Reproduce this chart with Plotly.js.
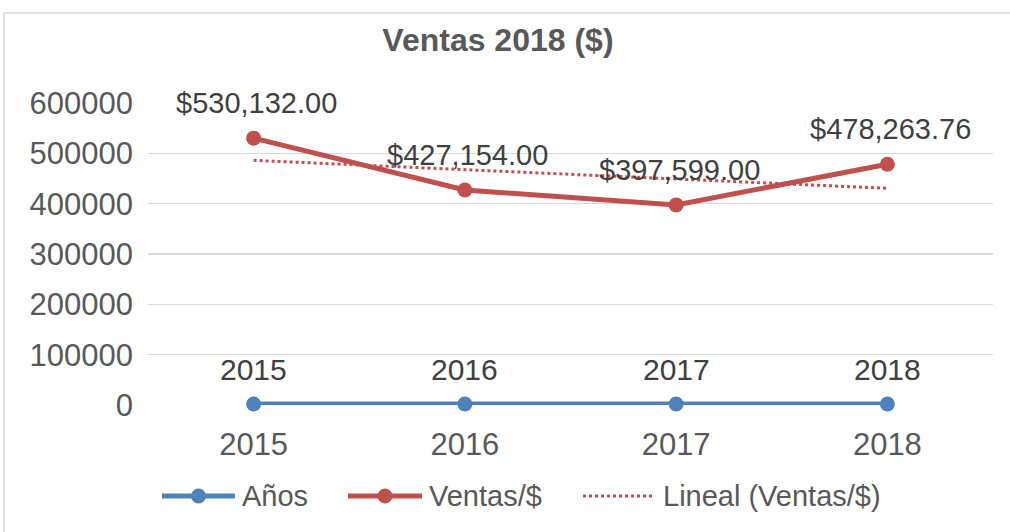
<!DOCTYPE html>
<html>
<head>
<meta charset="utf-8">
<script src="https://cdn.plot.ly/plotly-3.0.1.min.js"></script>
<style>
html,body{margin:0;padding:0;background:#fff;}
#chart{width:1010px;height:532px;}
</style>
</head>
<body>
<div id="chart"></div>
<script>
const categories = ['2015', '2016', '2017', '2018'];
const anos = [2015, 2016, 2017, 2018];
const ventas = [530132.00, 427154.00, 397599.00, 478263.76];
const ventasLabels = ['$530,132.00', '$427,154.00', '$397,599.00', '$478,263.76'];
const anosLabels = ['2015', '2016', '2017', '2018'];
const yTicks = [0, 100000, 200000, 300000, 400000, 500000, 600000];
const seriesNames = ['Años', 'Ventas/$', 'Lineal (Ventas/$)'];

// Linear trendline (least squares) of Ventas over category index
const n = ventas.length;
const xs = ventas.map((_, i) => i + 1);
const mx = xs.reduce((a, b) => a + b, 0) / n;
const my = ventas.reduce((a, b) => a + b, 0) / n;
let sxy = 0, sxx = 0;
for (let i = 0; i < n; i++) { sxy += (xs[i] - mx) * (ventas[i] - my); sxx += (xs[i] - mx) ** 2; }
const slope = sxy / sxx;
const trend = xs.map(x => my + slope * (x - mx));

const blue = '#4F81BD';
const red = '#C0504D';
const textGray = '#595959';
const labelGray = '#404040';
const FONT = 'Liberation Sans, Arial, sans-serif';
const FS = 30;

const traces = [
  {
    x: categories, y: anos, name: seriesNames[0], type: 'scatter', mode: 'lines+markers',
    line: {color: blue, width: 5}, marker: {color: blue, size: 15}, cliponaxis: false
  },
  {
    x: categories, y: ventas, name: seriesNames[1], type: 'scatter', mode: 'lines+markers',
    line: {color: red, width: 5}, marker: {color: red, size: 15}, cliponaxis: false
  },
  {
    x: categories, y: trend, name: seriesNames[2], type: 'scatter', mode: 'lines',
    line: {color: red, width: 3, dash: 'dot'}, cliponaxis: false
  }
];

const annotations = [];
categories.forEach((c, i) => {
  annotations.push({x: i, y: ventas[i], text: ventasLabels[i], showarrow: false,
    xref: 'x', yref: 'y', yshift: 35, xshift: 3, font: {family: FONT, size: 29, color: labelGray}});
  annotations.push({x: i, y: anos[i], text: anosLabels[i], showarrow: false,
    xref: 'x', yref: 'y', yshift: 34, font: {family: FONT, size: FS, color: labelGray}});
});

// Custom legend (pixel layout converted to paper coords)
const L = 148, W = 845, B = 405, H = 302;
const px = v => (v - L) / W;
const py = v => (B - v) / H;
const legY = 496;
const legendItems = [
  {x0: 162, x1: 235, tx: 240, color: blue, dash: 'solid', width: 5, marker: true},
  {x0: 348, x1: 422, tx: 427, color: red, dash: 'solid', width: 5, marker: true},
  {x0: 583, x1: 655, tx: 661, color: red, dash: 'dot', width: 3, marker: false}
];
const shapes = [{type: 'rect', xref: 'paper', yref: 'paper', x0: px(4), x1: 1.2, y0: -0.6, y1: py(13),
  line: {color: '#D9D9D9', width: 1.5}, fillcolor: 'rgba(0,0,0,0)', layer: 'below'}];
legendItems.forEach((it, i) => {
  shapes.push({type: 'line', xref: 'paper', yref: 'paper', x0: px(it.x0), x1: px(it.x1),
    y0: py(legY), y1: py(legY), line: {color: it.color, width: it.width, dash: it.dash}});
  if (it.marker) {
    const cx = px((it.x0 + it.x1) / 2);
    shapes.push({type: 'circle', xref: 'paper', yref: 'paper', xsizemode: 'pixel', ysizemode: 'pixel',
      xanchor: cx, yanchor: py(legY), x0: -7.5, x1: 7.5, y0: -7.5, y1: 7.5,
      fillcolor: it.color, line: {color: it.color, width: 0}});
  }
  annotations.push({xref: 'paper', yref: 'paper', x: px(it.tx), y: py(legY), xanchor: 'left',
    yanchor: 'middle', text: seriesNames[i], showarrow: false,
    font: {family: FONT, size: 29, color: textGray}});
});

const layout = {
  width: 1010, height: 532,
  paper_bgcolor: '#fff', plot_bgcolor: '#fff',
  margin: {l: 148, r: 17, t: 103, b: 127},
  font: {family: FONT, size: FS, color: textGray},
  title: {text: '<b>Ventas 2018 ($)</b>', x: 0.493, xanchor: 'center', y: 0.925, yanchor: 'middle',
    font: {family: FONT, size: 32, color: textGray}},
  xaxis: {
    type: 'category', range: [-0.5, 3.5], showgrid: false, showline: false, zeroline: false,
    ticks: '', tickfont: {family: FONT, size: 31, color: textGray}, ticklabelstandoff: 18
  },
  yaxis: {
    range: [0, 600000], tickvals: yTicks, ticktext: yTicks.map(String),
    showgrid: true, gridcolor: '#D9D9D9', gridwidth: 1.5, zeroline: false, showline: false,
    ticks: '', tickfont: {family: FONT, size: 31, color: textGray}, ticklabelstandoff: 14
  },
  showlegend: false,
  annotations: annotations,
  shapes: shapes
};

Plotly.newPlot('chart', traces, layout, {staticPlot: true, displayModeBar: false});
</script>
</body>
</html>
